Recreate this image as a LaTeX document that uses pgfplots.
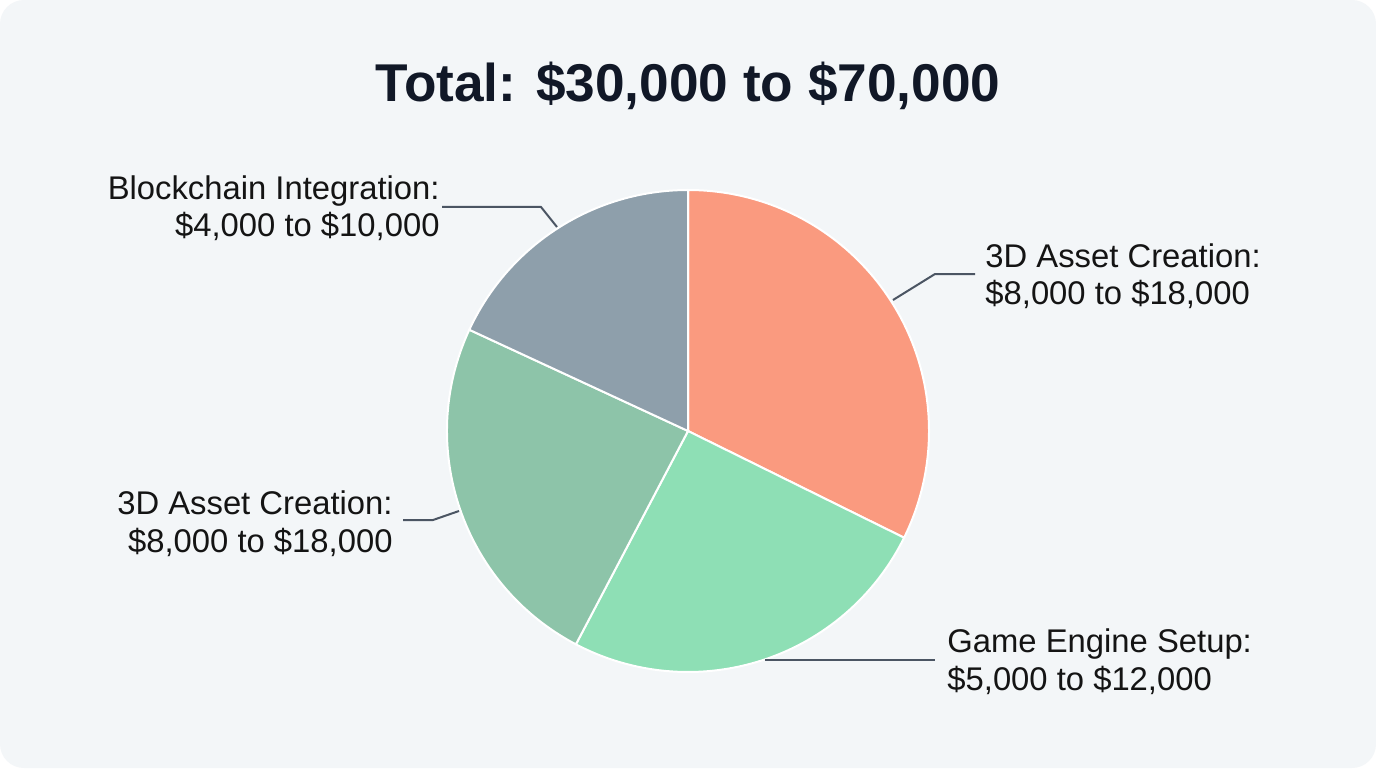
\documentclass[border=0pt]{standalone}
\usepackage{pgfplots}
\pgfplotsset{compat=1.18}
\usepackage{fontspec}
\setmainfont{Liberation Sans}
\definecolor{bg}{HTML}{F3F6F8}
\definecolor{cOrange}{HTML}{FA9A7F}
\definecolor{cLight}{HTML}{8EDFB5}
\definecolor{cSage}{HTML}{8DC4A9}
\definecolor{cGray}{HTML}{8E9FAB}
\definecolor{lead}{HTML}{4B5563}
\definecolor{titlec}{HTML}{111827}
\definecolor{labc}{HTML}{141414}
% slice shares in percent (clockwise from top)
\def\pA{32.3}\def\pB{25.4}\def\pC{24.2}\def\pD{18.1}
\begin{document}
\begin{tikzpicture}
\fill[white] (0,0) rectangle (688pt,384pt);
\fill[bg, rounded corners=12pt] (0,0) rectangle (688pt,384pt);
\pgfmathsetmacro\aA{90}
\pgfmathsetmacro\aB{\aA-3.6*\pA}
\pgfmathsetmacro\aC{\aB-3.6*\pB}
\pgfmathsetmacro\aD{\aC-3.6*\pC}
\pgfmathsetmacro\aE{\aD-3.6*\pD}
\begin{axis}[at={(0,0)}, anchor=south west, scale only axis,
  width=688pt, height=384pt, xmin=0, xmax=1376, ymin=0, ymax=768,
  hide axis, clip=false]
\addplot[fill=cOrange, draw=white, line width=1pt, mark=none] coordinates {(688,337)}
  -- ++(\aA:120.5pt) arc[start angle=\aA, end angle=\aB, radius=120.5pt] -- cycle;
\addplot[fill=cLight, draw=white, line width=1pt, mark=none] coordinates {(688,337)}
  -- ++(\aB:120.5pt) arc[start angle=\aB, end angle=\aC, radius=120.5pt] -- cycle;
\addplot[fill=cSage, draw=white, line width=1pt, mark=none] coordinates {(688,337)}
  -- ++(\aC:120.5pt) arc[start angle=\aC, end angle=\aD, radius=120.5pt] -- cycle;
\addplot[fill=cGray, draw=white, line width=1pt, mark=none] coordinates {(688,337)}
  -- ++(\aD:120.5pt) arc[start angle=\aD, end angle=\aE, radius=120.5pt] -- cycle;
% leader lines
\addplot[lead, line width=1pt, mark=none] coordinates {(442,561) (541,561) (557,541)};
\addplot[lead, line width=1pt, mark=none] coordinates {(893,468) (935,494) (975,494)};
\addplot[lead, line width=1pt, mark=none] coordinates {(403,248) (433,248) (459,257)};
\addplot[lead, line width=1pt, mark=none] coordinates {(765,108) (935,108)};
% title
\node[anchor=base, text=titlec, font=\fontsize{26.6}{30}\selectfont\bfseries] at (axis cs:688,666) {Total: \$30,000 to \$70,000};
% labels
\tikzset{lab/.style={text=labc, font=\fontsize{16.4}{19}\selectfont, inner sep=0pt}}
\node[lab, anchor=base east] at (axis cs:440,568) {Blockchain Integration:};
\node[lab, anchor=base east] at (axis cs:440,531) {\$4,000 to \$10,000};
\node[lab, anchor=base west] at (axis cs:985,501) {3D Asset Creation:};
\node[lab, anchor=base west] at (axis cs:985,464) {\$8,000 to \$18,000};
\node[lab, anchor=base east] at (axis cs:393,254) {3D Asset Creation:};
\node[lab, anchor=base east] at (axis cs:393,216) {\$8,000 to \$18,000};
\node[lab, anchor=base west] at (axis cs:947,116) {Game Engine Setup:};
\node[lab, anchor=base west] at (axis cs:947,78) {\$5,000 to \$12,000};
\end{axis}
\end{tikzpicture}
\end{document}
